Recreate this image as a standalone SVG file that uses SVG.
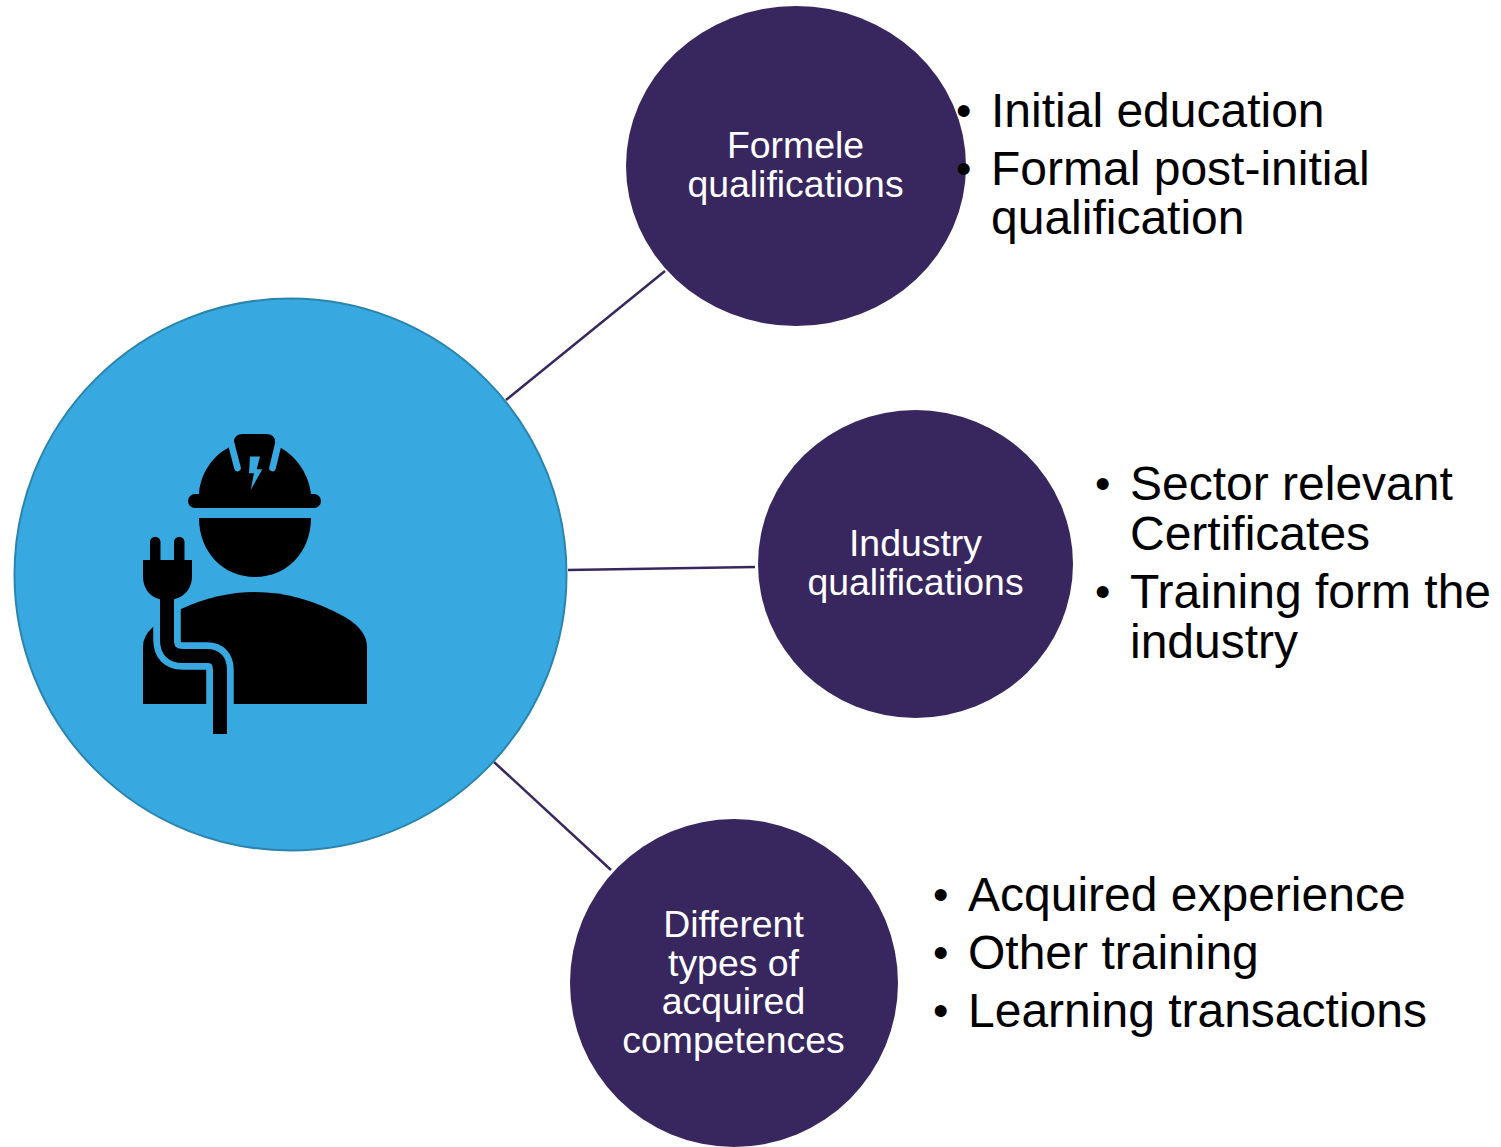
<svg xmlns="http://www.w3.org/2000/svg" width="1501" height="1147" viewBox="0 0 1501 1147">
<style>
text{font-family:"Liberation Sans",Arial,sans-serif}
.hub{fill:#38a9e0;stroke:#2a84ae;stroke-width:2}
.node{fill:#38265f}
.lab{fill:#fff;font-size:37.4px;text-anchor:middle}
.b{fill:#000;font-size:48px}
.d{fill:#000;font-size:44px}
.conn{stroke:#38265f;stroke-width:2.5;fill:none}
.cut{fill:none;stroke:#38a9e0;stroke-width:27.5}
.cord{fill:none;stroke:#000;stroke-width:14}
.strap{stroke:#38a9e0;stroke-width:6.7;stroke-linecap:round;fill:none}
</style>
<rect width="1501" height="1147" fill="#fff"/>
<g id="connectors">
<line class="conn" x1="506" y1="400" x2="665" y2="271"/>
<line class="conn" x1="568" y1="570" x2="755" y2="567"/>
<line class="conn" x1="494" y1="762" x2="611" y2="870"/>
</g>
<g id="hub">
<circle class="hub" cx="290.500" cy="574.500" r="276"/>
<path d="M143 704V646Q143 636 153 627L181 609Q218 592 255 592Q300 592 345 617Q367 630 367 647V704Z"/>
<path class="cut" d="M167 600V640Q167 656 183 656H207Q220 656 220 670V720"/>
<path class="cord" d="M167 590V640Q167 656 183 656H207Q220 656 220 670V734"/>
<path d="M143 560H150V542a5 5 0 0 1 10.500 0V560H174V542a5 5 0 0 1 10.500 0V560H192V576C192 592 180 600 167 600C154 600 143 592 143 576Z"/>
<path d="M199 518H311C311 552 287 577 255 577C223 577 199 552 199 518Z"/>
<path d="M199 494C200 475 212 456 228 448L234 442Q234 434 243 434H266Q275 434 275 442L281 448C297 457 309 475 311 494H314A7 7 0 0 1 314 508H195A7 7 0 0 1 195 494Z"/>
<path class="strap" d="M231 443L237.500 468M278.500 443L272.500 468"/>
<polygon fill="#38a9e0" points="250,456.500 260,456.500 256.700,469.300 262.300,469.300 250.700,490 254,473.300 249,473.300"/>
</g>
<g id="formele">
<ellipse class="node" cx="796" cy="166" rx="170" ry="160"/>
<text class="lab" x="795.500" y="158">Formele</text>
<text class="lab" x="795.500" y="197">qualifications</text>
</g>
<g id="industry">
<ellipse class="node" cx="915.500" cy="564" rx="157.500" ry="154"/>
<text class="lab" x="915.500" y="556">Industry</text>
<text class="lab" x="915.500" y="595">qualifications</text>
</g>
<g id="different">
<circle class="node" cx="734" cy="983" r="164"/>
<text class="lab" x="733.500" y="937">Different</text>
<text class="lab" x="733.500" y="976">types of</text>
<text class="lab" x="733.500" y="1014">acquired</text>
<text class="lab" x="733.500" y="1053">competences</text>
</g>
<g id="list-formele">
<text class="d" x="956" y="126">•</text><text class="b" x="991" y="127">Initial education</text>
<text class="d" x="956" y="184">•</text><text class="b" x="991" y="185">Formal post-initial</text>
<text class="b" x="991" y="234">qualification</text>
</g>
<g id="list-industry">
<text class="d" x="1095" y="499">•</text><text class="b" x="1130" y="500">Sector relevant</text>
<text class="b" x="1130" y="550">Certificates</text>
<text class="d" x="1095" y="607">•</text><text class="b" x="1130" y="608">Training form the</text>
<text class="b" x="1130" y="658">industry</text>
</g>
<g id="list-different">
<text class="d" x="933" y="910">•</text><text class="b" x="968" y="911">Acquired experience</text>
<text class="d" x="933" y="968">•</text><text class="b" x="968" y="969">Other training</text>
<text class="d" x="933" y="1026">•</text><text class="b" x="968" y="1027">Learning transactions</text>
</g>
</svg>
